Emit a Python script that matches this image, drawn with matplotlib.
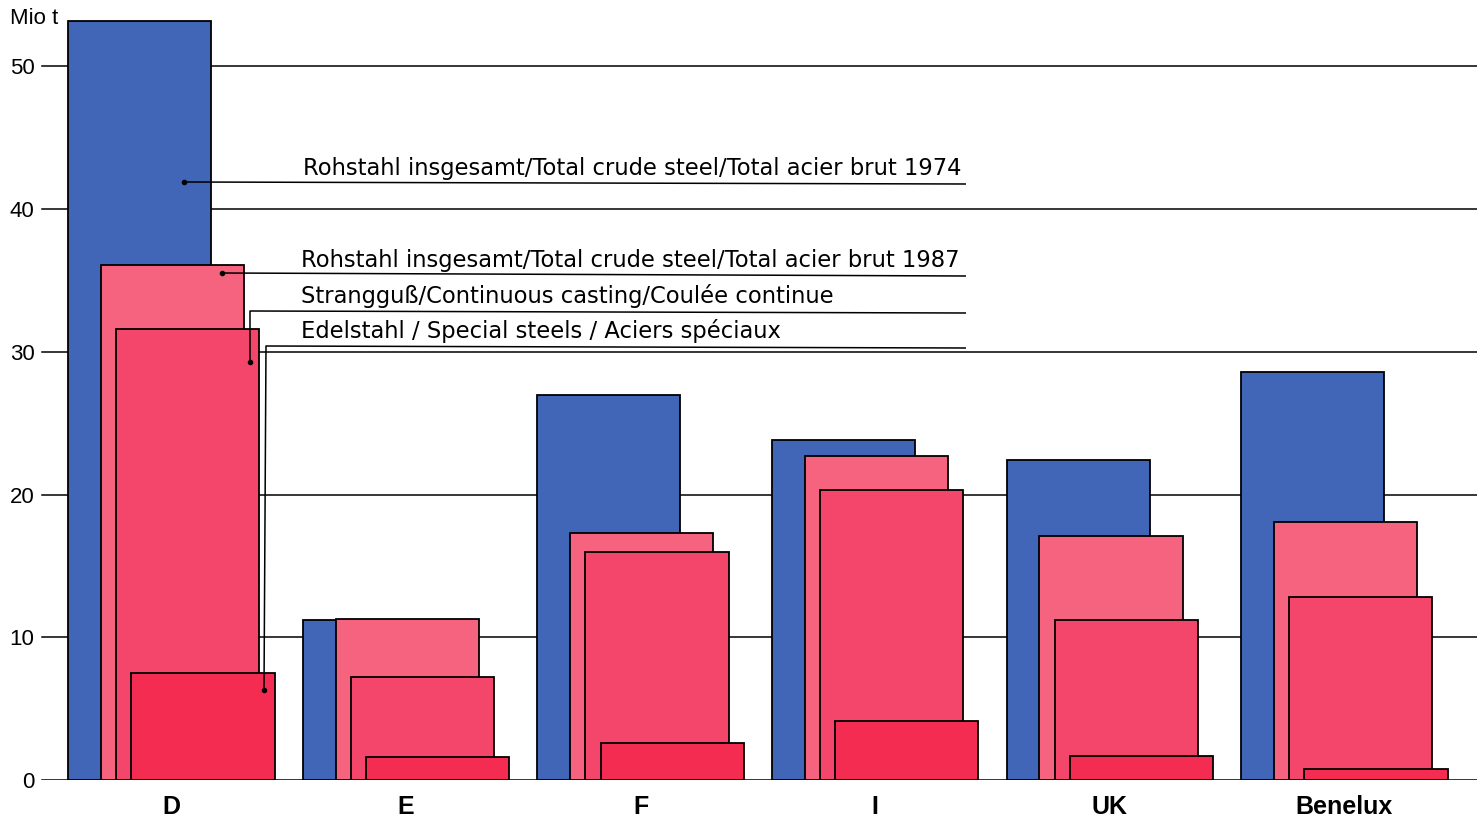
import matplotlib
matplotlib.use("Agg")
import matplotlib.pyplot as plt
from matplotlib.patches import Rectangle

plt.rcParams['font.family'] = ['Liberation Sans', 'DejaVu Sans']

categories = ["D", "E", "F", "I", "UK", "Benelux"]
crude_1974 = [53.2, 11.2, 27.0, 23.8, 22.4, 28.6]
crude_1987 = [36.1, 11.3, 17.3, 22.7, 17.1, 18.1]
continuous = [31.6, 7.2, 16.0, 20.3, 11.2, 12.8]
special = [7.5, 1.6, 2.6, 4.1, 1.7, 0.8]
yticks = [0, 10, 20, 30, 40, 50]
series_labels = [
    "Rohstahl insgesamt/Total crude steel/Total acier brut 1974",
    "Rohstahl insgesamt/Total crude steel/Total acier brut 1987",
    "Strangguß/Continuous casting/Coulée continue",
    "Edelstahl / Special steels / Aciers spéciaux",
]
colors = ["#4166b8", "#f5637f", "#f4466b", "#f42c52"]

W, H = 1477, 821
fig = plt.figure(figsize=(W / 100, H / 100), dpi=100)
fig.patch.set_facecolor("white")
ax_left_px, ax_bottom_px = 40, 780
ax = fig.add_axes([ax_left_px / W, (H - ax_bottom_px) / H, (W - ax_left_px) / W, ax_bottom_px / H])
ymax = 54.66
xmin = -0.56
xmax = xmin + (W - ax_left_px) / 234.6
ax.set_xlim(xmin, xmax)
ax.set_ylim(0, ymax)
for s in ax.spines.values():
    s.set_visible(False)
ax.set_xticks([])
ax.set_yticks(yticks)
ax.set_yticklabels([str(t) for t in yticks], fontsize=16)
ax.tick_params(axis='y', length=0, pad=4)
ax.patch.set_alpha(0)

def px2data(px, py):
    x = xmin + (px - ax_left_px) / 234.6
    y = (ax_bottom_px - py) * ymax / ax_bottom_px
    return x, y

# gridlines
for t in yticks:
    ax.axhline(t, xmin=(42 - ax_left_px) / (W - ax_left_px), xmax=1, color="black", lw=1.1, zorder=0)

width = 0.61
offsets = [-0.44, -0.30, -0.235, -0.17]
series = [crude_1974, crude_1987, continuous, special]
for k, (vals, off, col) in enumerate(zip(series, offsets, colors)):
    for i, v in enumerate(vals):
        ax.add_patch(Rectangle((i + off, 0), width, v, facecolor=col,
                               edgecolor="black", lw=1.3, zorder=2 + k))

for i, c in enumerate(categories):
    ax.text(i, -1.9, c, ha="center", va="center", fontsize=18, fontweight="bold")

fig.text(10 / W, 1 - 19 / H, "Mio t", ha="left", va="center", fontsize=16)

# annotations with leader lines
def leader(points, dot, zorder=10):
    xs, ys = zip(*[px2data(*p) for p in points])
    ax.plot(xs, ys, color="black", lw=1.1, zorder=zorder, solid_capstyle="butt")
    dx, dy = px2data(*dot)
    ax.plot([dx], [dy], "o", color="black", ms=3, zorder=zorder)

leader([(184, 182), (966, 184)], (184, 182))
leader([(222, 273), (966, 276)], (222, 273))
leader([(250, 362), (250, 311), (966, 313)], (250, 362))
leader([(264, 690), (266, 346), (966, 348)], (264, 690))

label_pos = [(303, 169), (301, 260), (301, 296), (301, 331)]
for (px, py), lab in zip(label_pos, series_labels):
    x, y = px2data(px, py)
    ax.text(x, y, lab, ha="left", va="center", fontsize=16.3, zorder=11,
            family="DejaVu Sans")

fig.savefig("out.png", dpi=100)
